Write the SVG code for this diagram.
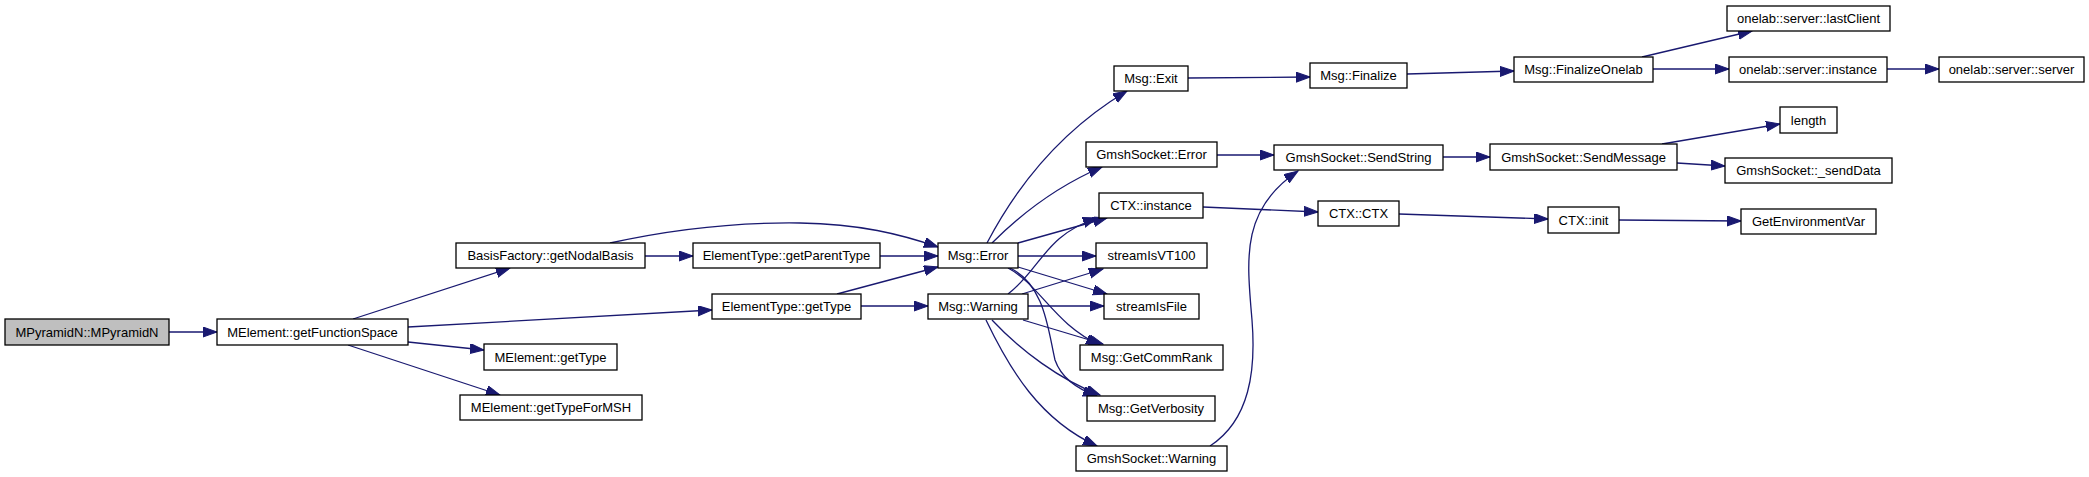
<svg xmlns="http://www.w3.org/2000/svg" width="2089" height="477" viewBox="0 0 2089 477">
<style>
.node rect{fill:#ffffff;stroke:#000000;stroke-width:1.3}
.node.root rect{fill:#bfbfbf}
.node text{font-family:"Liberation Sans",Arial,sans-serif;font-size:13px;fill:#000000;text-anchor:middle}
.edges path{fill:none;stroke:#191970;stroke-width:1.3;marker-end:url(#arr)}
</style>
<defs>
<marker id="arr" markerUnits="userSpaceOnUse" markerWidth="15" markerHeight="11" refX="14" refY="5" orient="auto" viewBox="0 0 15 11">
<path d="M0,0 L14,5 L0,10 z" fill="#191970" stroke="#191970" stroke-width="1"/>
</marker>
</defs>
<rect width="2089" height="477" fill="#ffffff"/>
<g class="edges">
<path d="M169,332 L217,332"/>
<path d="M353,319 L510,268"/>
<path d="M408,327 L712,310"/>
<path d="M408,342 L484,350"/>
<path d="M348,345 L500,395"/>
<path d="M645,256 L693,256"/>
<path d="M610,243 C660,232 730,222 800,223 C860,224 900,234 938,247"/>
<path d="M880,256 L938,256"/>
<path d="M837,294 L938,267"/>
<path d="M861,306 L928,306"/>
<path d="M987,243 C1020,180 1065,128 1127,91"/>
<path d="M992,243 C1020,215 1055,187 1102,167"/>
<path d="M1018,243 L1107,218"/>
<path d="M1018,256 L1096,256"/>
<path d="M1018,267 L1107,294"/>
<path d="M1008,268 C1040,285 1055,325 1100,345"/>
<path d="M1010,268 C1045,285 1048,330 1055,360 C1062,380 1080,390 1097,396"/>
<path d="M1008,294 C1040,270 1045,235 1097,218"/>
<path d="M1022,294 L1103,269"/>
<path d="M1028,306 L1104,306"/>
<path d="M1023,320 L1103,344"/>
<path d="M992,320 C1020,350 1060,380 1100,395"/>
<path d="M986,320 C1010,370 1040,420 1097,446"/>
<path d="M1217,155 L1274,155"/>
<path d="M1210,446 C1250,420 1256,370 1252,320 C1247,260 1240,210 1298,171"/>
<path d="M1203,207 L1318,212"/>
<path d="M1188,78 L1310,77"/>
<path d="M1407,74 L1514,71"/>
<path d="M1642,57 L1752,31"/>
<path d="M1653,69 L1729,69"/>
<path d="M1887,69 L1939,69"/>
<path d="M1443,157 L1490,157"/>
<path d="M1662,144 L1780,124"/>
<path d="M1677,163 L1725,166"/>
<path d="M1399,214 L1548,219"/>
<path d="M1619,220 L1741,221"/>
</g>
<g id="n1" class="node root"><rect x="5" y="319" width="164" height="26"/><text x="87" y="336.5">MPyramidN::MPyramidN</text></g>
<g id="n2" class="node"><rect x="217" y="319" width="191" height="26"/><text x="312.5" y="336.5">MElement::getFunctionSpace</text></g>
<g id="n3" class="node"><rect x="456" y="243" width="189" height="25"/><text x="550.5" y="260">BasisFactory::getNodalBasis</text></g>
<g id="n4" class="node"><rect x="484" y="344" width="133" height="26"/><text x="550.5" y="361.5">MElement::getType</text></g>
<g id="n5" class="node"><rect x="460" y="395" width="182" height="25"/><text x="551" y="412">MElement::getTypeForMSH</text></g>
<g id="n6" class="node"><rect x="693" y="243" width="187" height="25"/><text x="786.5" y="260">ElementType::getParentType</text></g>
<g id="n7" class="node"><rect x="712" y="294" width="149" height="25"/><text x="786.5" y="311">ElementType::getType</text></g>
<g id="n8" class="node"><rect x="938" y="243" width="80" height="25"/><text x="978" y="260">Msg::Error</text></g>
<g id="n9" class="node"><rect x="928" y="294" width="100" height="25"/><text x="978" y="311">Msg::Warning</text></g>
<g id="n10" class="node"><rect x="1114" y="66" width="74" height="25"/><text x="1151" y="83">Msg::Exit</text></g>
<g id="n11" class="node"><rect x="1086" y="142" width="131" height="25"/><text x="1151.5" y="159">GmshSocket::Error</text></g>
<g id="n12" class="node"><rect x="1099" y="193" width="104" height="25"/><text x="1151" y="210">CTX::instance</text></g>
<g id="n13" class="node"><rect x="1096" y="243" width="111" height="25"/><text x="1151.5" y="260">streamIsVT100</text></g>
<g id="n14" class="node"><rect x="1104" y="294" width="95" height="25"/><text x="1151.5" y="311">streamIsFile</text></g>
<g id="n15" class="node"><rect x="1080" y="345" width="143" height="25"/><text x="1151.5" y="362">Msg::GetCommRank</text></g>
<g id="n16" class="node"><rect x="1087" y="396" width="128" height="25"/><text x="1151" y="413">Msg::GetVerbosity</text></g>
<g id="n17" class="node"><rect x="1076" y="446" width="151" height="25"/><text x="1151.5" y="463">GmshSocket::Warning</text></g>
<g id="n18" class="node"><rect x="1310" y="63" width="97" height="25"/><text x="1358.5" y="80">Msg::Finalize</text></g>
<g id="n19" class="node"><rect x="1274" y="145" width="169" height="25"/><text x="1358.5" y="162">GmshSocket::SendString</text></g>
<g id="n20" class="node"><rect x="1318" y="201" width="81" height="25"/><text x="1358.5" y="218">CTX::CTX</text></g>
<g id="n21" class="node"><rect x="1514" y="57" width="139" height="25"/><text x="1583.5" y="74">Msg::FinalizeOnelab</text></g>
<g id="n22" class="node"><rect x="1490" y="144" width="187" height="26"/><text x="1583.5" y="161.5">GmshSocket::SendMessage</text></g>
<g id="n23" class="node"><rect x="1548" y="207" width="71" height="26"/><text x="1583.5" y="224.5">CTX::init</text></g>
<g id="n24" class="node"><rect x="1727" y="6" width="163" height="25"/><text x="1808.5" y="23">onelab::server::lastClient</text></g>
<g id="n25" class="node"><rect x="1729" y="57" width="158" height="25"/><text x="1808" y="74">onelab::server::instance</text></g>
<g id="n26" class="node"><rect x="1939" y="57" width="145" height="25"/><text x="2011.5" y="74">onelab::server::server</text></g>
<g id="n27" class="node"><rect x="1780" y="107" width="57" height="26"/><text x="1808.5" y="124.5">length</text></g>
<g id="n28" class="node"><rect x="1725" y="158" width="167" height="25"/><text x="1808.5" y="175">GmshSocket::_sendData</text></g>
<g id="n29" class="node"><rect x="1741" y="209" width="135" height="25"/><text x="1808.5" y="226">GetEnvironmentVar</text></g>
</svg>
